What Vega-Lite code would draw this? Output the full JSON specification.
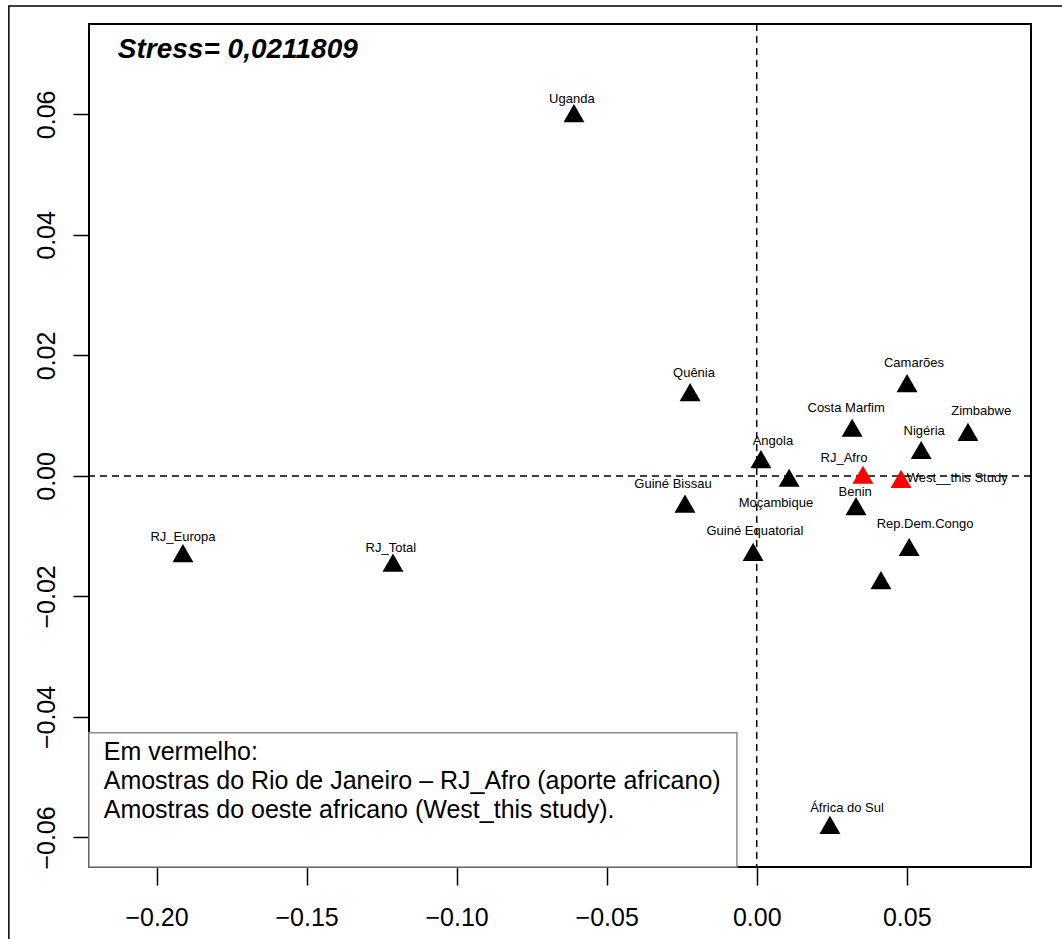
{
  "$schema": "https://vega.github.io/schema/vega-lite/v6.json",
  "width": 942,
  "height": 843,
  "autosize": {"type": "none"},
  "padding": {"left": 89, "top": 24, "right": 31, "bottom": 72},
  "background": "white",
  "config": {"view": {"stroke": "black", "strokeWidth": 2}, "font": "Liberation Sans"},
  "data": {"values": [{}]},
  "datasets": {
    "points": [
      {"name": "Uganda", "x": -0.0609, "y": 0.0602, "lx": -0.0616, "ly": 0.0626, "group": "other"},
      {"name": "Quênia", "x": -0.0222, "y": 0.0139, "lx": -0.0209, "ly": 0.0171, "group": "other"},
      {"name": "Camarões", "x": 0.0501, "y": 0.0154, "lx": 0.0524, "ly": 0.0187, "group": "other"},
      {"name": "Costa Marfim", "x": 0.0318, "y": 0.0080, "lx": 0.0298, "ly": 0.0113, "group": "other"},
      {"name": "Zimbabwe", "x": 0.0704, "y": 0.0073, "lx": 0.0748, "ly": 0.0108, "group": "other"},
      {"name": "Nigéria", "x": 0.0548, "y": 0.0043, "lx": 0.0558, "ly": 0.0075, "group": "other"},
      {"name": "Angola", "x": 0.0014, "y": 0.0028, "lx": 0.0054, "ly": 0.0058, "group": "other"},
      {"name": "Moçambique", "x": 0.0108, "y": -0.0003, "lx": 0.0064, "ly": -0.0045, "group": "other"},
      {"name": "RJ_Afro", "x": 0.0354, "y": 0.0002, "lx": 0.0291, "ly": 0.0030, "group": "highlight"},
      {"name": "West__this Study", "x": 0.0481, "y": -0.0005, "lx": 0.0668, "ly": -0.0003, "group": "highlight"},
      {"name": "Guiné Bissau", "x": -0.0239, "y": -0.0046, "lx": -0.0279, "ly": -0.0013, "group": "other"},
      {"name": "Benin", "x": 0.0331, "y": -0.0050, "lx": 0.0328, "ly": -0.0027, "group": "other"},
      {"name": "Guiné Equatorial", "x": -0.0012, "y": -0.0126, "lx": -0.0006, "ly": -0.0091, "group": "other"},
      {"name": "Rep.Dem.Congo", "x": 0.0508, "y": -0.0118, "lx": 0.0561, "ly": -0.0080, "group": "other"},
      {"name": "RJ_Europa", "x": -0.1912, "y": -0.0128, "lx": -0.1912, "ly": -0.0101, "group": "other"},
      {"name": "RJ_Total", "x": -0.1212, "y": -0.0144, "lx": -0.1219, "ly": -0.0119, "group": "other"},
      {"name": "África do Sul", "x": 0.0244, "y": -0.0579, "lx": 0.0301, "ly": -0.0551, "group": "other"},
      {"name": "", "x": 0.0414, "y": -0.0173, "lx": 0.0414, "ly": -0.0173, "group": "other"}
    ]
  },
  "layer": [
    {
      "mark": {"type": "rect", "fill": null, "stroke": "black", "strokeWidth": 1.5, "clip": false},
      "encoding": {
        "x": {"datum": -0.2492, "type": "quantitative"},
        "x2": {"datum": 0.2},
        "y": {"datum": 0.078, "type": "quantitative"},
        "y2": {"datum": -0.2}
      }
    },
    {
      "mark": {"type": "rule", "stroke": "black", "strokeWidth": 1.5, "strokeDash": [7, 5]},
      "encoding": {"y": {"datum": 0, "type": "quantitative"}}
    },
    {
      "mark": {"type": "rule", "stroke": "black", "strokeWidth": 1.5, "strokeDash": [7, 5]},
      "encoding": {"x": {"datum": 0, "type": "quantitative"}}
    },
    {
      "mark": {"type": "rect", "fill": "white", "stroke": "#8c8c8c", "strokeWidth": 1.5},
      "encoding": {
        "x": {"datum": -0.2225, "type": "quantitative"},
        "x2": {"datum": -0.0066},
        "y": {"datum": -0.0426, "type": "quantitative"},
        "y2": {"datum": -0.0649}
      }
    },
    {
      "mark": {"type": "text", "align": "left", "baseline": "top", "fontSize": 25, "lineHeight": 29, "color": "black",
        "text": ["Em vermelho:", "Amostras do Rio de Janeiro – RJ_Afro (aporte africano)", "Amostras do oeste africano (West_this study)."]},
      "encoding": {
        "x": {"datum": -0.2176, "type": "quantitative"},
        "y": {"datum": -0.0438, "type": "quantitative"}
      }
    },
    {
      "mark": {"type": "text", "align": "left", "baseline": "alphabetic", "fontSize": 28, "fontWeight": "bold", "fontStyle": "italic", "color": "black", "text": "Stress= 0,0211809"},
      "encoding": {
        "x": {"datum": -0.2129, "type": "quantitative"},
        "y": {"datum": 0.0693, "type": "quantitative"}
      }
    },
    {
      "data": {"name": "points"},
      "mark": {"type": "point", "shape": "triangle-up", "filled": true, "size": 440, "opacity": 1},
      "encoding": {
        "x": {"field": "x", "type": "quantitative",
          "scale": {"domain": [-0.2225, 0.0914], "nice": false, "zero": false},
          "axis": {"values": [-0.2, -0.15, -0.1, -0.05, 0, 0.05], "format": ".2f", "domain": false, "grid": false,
            "tickColor": "black", "tickSize": 18, "tickWidth": 1.5, "labelFontSize": 25, "labelColor": "black",
            "labelPadding": 20, "labelFont": "Liberation Sans", "title": null, "labelFlush": false, "labelOverlap": false}},
        "y": {"field": "y", "type": "quantitative",
          "scale": {"domain": [-0.0649, 0.075], "nice": false, "zero": false},
          "axis": {"values": [-0.06, -0.04, -0.02, 0, 0.02, 0.04, 0.06], "format": ".2f", "domain": false, "grid": false,
            "tickColor": "black", "tickSize": 16, "tickWidth": 1.5, "labelFontSize": 25, "labelColor": "black",
            "labelAngle": -90, "labelAlign": "center", "labelBaseline": "bottom",
            "labelPadding": 14, "labelFont": "Liberation Sans", "title": null, "labelFlush": false, "labelOverlap": false}},
        "color": {"field": "group", "type": "nominal", "scale": {"domain": ["other", "highlight"], "range": ["black", "#ff0000"]}, "legend": null}
      }
    },
    {
      "data": {"name": "points"},
      "transform": [{"filter": "datum.name != ''"}],
      "mark": {"type": "text", "align": "center", "baseline": "middle", "fontSize": 13, "color": "black"},
      "encoding": {
        "x": {"field": "lx", "type": "quantitative"},
        "y": {"field": "ly", "type": "quantitative"},
        "text": {"field": "name"}
      }
    }
  ]
}
